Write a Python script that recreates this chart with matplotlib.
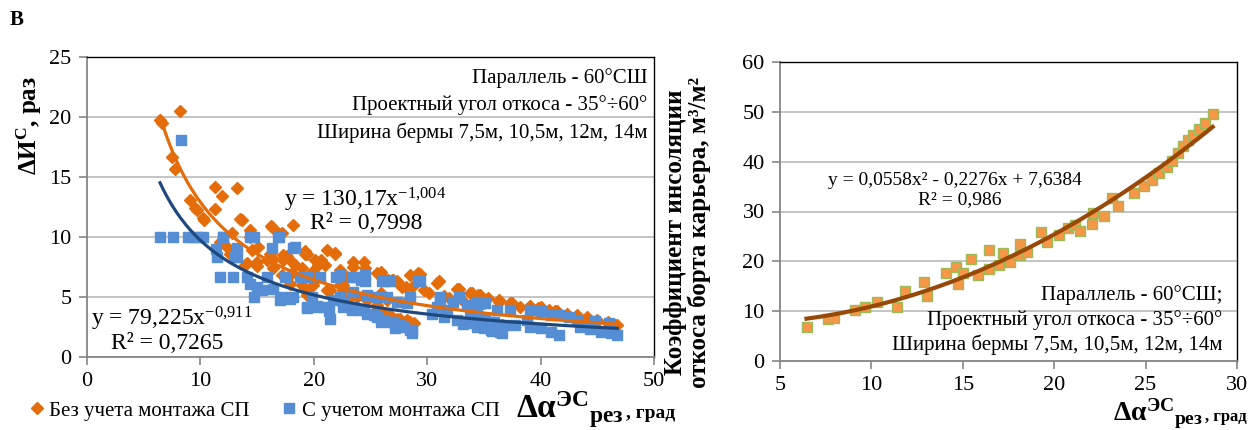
import numpy as np
import matplotlib
matplotlib.use("Agg")
import matplotlib.pyplot as plt
from matplotlib.lines import Line2D

plt.rcParams['font.family'] = ['Liberation Serif', 'DejaVu Serif']
plt.rcParams['mathtext.fontset'] = 'custom'
plt.rcParams['mathtext.rm'] = 'Liberation Serif'
plt.rcParams['mathtext.it'] = 'Liberation Serif:italic'
plt.rcParams['mathtext.bf'] = 'Liberation Serif:bold'

# ---------------- data (left panel) ----------------
bez_x = [6.44, 6.59, 8.21, 7.47, 7.77, 9.09, 9.53, 9.68, 10.27, 10.33, 11.3, 11.89, 13.2, 11.3, 13.5,
         13.65, 14.4, 12.77, 16.2, 16.3, 16.88, 18.2, 17.2, 11.74, 12.33, 12.62, 12.77, 14.4, 15.1, 14.54,
         16.15, 17.6, 17.3, 19.2, 19.24, 19.4, 13.9, 14.1, 14.98, 14.98, 15.86, 16.4, 17.3, 18.35, 18.2,
         16.4, 17.2, 18.07, 18.95, 19.83, 20.4, 20.1, 20.4, 20.6, 21.0, 21.15, 21.9, 21.9, 22.3, 22.9,
         23.5, 23.5, 24.4, 24.5, 25.6, 25.9, 26.0, 26.5, 26.9, 27.0, 27.3, 27.5, 27.8, 28.1, 28.5, 28.7,
         29.2, 29.4, 29.7, 30.9, 31.0, 31.9, 32.6, 32.8, 33.8, 33.95, 34.5, 34.7, 35.4, 36.3, 36.3, 37.3,
         37.5, 38.2, 38.95, 39.1, 39.8, 40.0, 40.7, 41.3, 41.45, 42.3, 43.2, 43.2, 44.1, 44.1, 45.0, 45.9,
         45.9, 46.6, 46.75,
         17.9, 18.95, 19.4, 19.4, 19.97, 21.15, 21.4, 22.3, 22.6, 22.6, 23.2, 23.8, 24.7, 25.6, 25.57,
         26.15, 26.45, 26.7, 27.3, 27.6, 28.2, 28.5, 28.8, 36.6, 25.9, 26.45, 30.2, 31.5, 33.0, 35.0]
bez_y = [19.75, 19.5, 20.5, 16.7, 15.7, 13.1, 12.4, 12.25, 11.55, 11.4, 14.2, 13.4, 14.05, 12.3, 11.5,
         11.4, 10.6, 10.3, 10.9, 10.85, 10.3, 11.0, 10.3, 9.6, 9.2, 8.6, 8.6, 10.0, 9.2, 8.9,
         8.6, 8.4, 8.5, 8.6, 8.8, 8.6, 7.67, 7.8, 7.6, 7.95, 8.1, 8.15, 8.1, 7.67, 7.8,
         7.4, 6.8, 6.97, 7.4, 7.1, 6.7, 8.1, 7.7, 8.1, 7.7, 8.9, 8.6, 8.7, 7.25, 6.7,
         7.5, 7.9, 7.95, 7.4, 7.0, 7.1, 6.75, 6.4, 6.4, 6.4, 6.3, 6.1, 5.86, 5.86, 6.8, 5.86,
         6.97, 6.9, 5.6, 6.2, 6.3, 4.9, 5.7, 5.7, 5.36, 5.3, 5.2, 5.2, 4.9, 4.75, 4.6, 4.47,
         4.47, 4.2, 4.2, 4.25, 4.05, 4.2, 3.9, 3.8, 3.8, 3.6, 3.4, 3.5, 3.3, 3.2, 3.1, 2.86,
         2.95, 2.67, 2.67,
         6.1, 6.0, 5.4, 5.2, 6.0, 5.6, 5.6, 6.0, 5.6, 6.0, 5.0, 5.0, 4.75, 4.3, 3.9,
         3.6, 3.6, 3.5, 3.2, 3.2, 3.1, 2.95, 2.8, 2.67, 5.3, 4.75, 5.3, 5.1, 4.8, 4.5]

s_x = [6.44, 7.56, 8.94, 9.38, 10.27, 8.27, 11.4, 11.44, 11.74, 12.9, 12.0, 13.06, 13.2, 14.1, 14.4,
       14.7, 14.4, 15.0, 14.7, 15.4, 15.86, 16.3, 16.4, 16.88, 17.3, 17.47, 18.2, 18.2, 18.8, 19.4,
       19.83, 20.27, 20.56, 21.0, 21.45, 22.0, 22.3, 22.6, 23.35, 23.5, 24.2, 24.1, 24.7, 25.6, 26.15,
       26.9, 27.6, 28.65, 26.7, 28.5, 17.0, 17.9, 19.4, 20.3, 19.4, 22.3, 23.65, 24.5, 24.5, 26.0,
       21.3, 29.2, 31.15, 32.3, 33.5, 34.4, 34.1, 32.6, 31.45, 30.4, 28.5, 27.9, 27.0, 25.3, 24.4,
       23.5, 22.6, 21.7, 27.3, 28.2, 25.6, 24.7, 26.45, 23.5, 29.4, 26.3, 31.15, 32.8, 34.4, 30.9,
       31.75, 33.8, 34.7, 35.6, 36.45, 35.7, 35.0, 33.2, 27.2, 28.65, 25.9, 34.4, 35.1, 36.15, 37.3,
       39.1, 40.0, 40.9, 41.6, 42.5, 43.2, 39.1, 40.0, 40.9, 41.6, 43.5, 44.4, 45.3, 46.2, 46.75,
       34.4, 35.6, 36.6, 38.8, 46.0, 44.8, 35.1, 35.9, 36.8, 37.7, 18.35, 13.2, 16.9, 12.0, 9.8]
s_y = [10.0, 10.0, 10.0, 10.0, 10.0, 18.1, 9.0, 8.36, 6.7, 6.7, 10.0, 8.36, 9.05, 6.7, 10.0,
       10.0, 6.1, 5.86, 5.0, 5.6, 6.7, 9.05, 5.7, 10.0, 5.0, 6.7, 9.05, 5.0, 6.7, 4.2,
       5.0, 4.2, 6.7, 4.2, 3.2, 6.7, 5.0, 4.2, 3.9, 6.7, 6.4, 3.9, 3.6, 3.36, 3.1,
       2.95, 2.67, 2.25, 6.3, 5.0, 4.75, 4.8, 4.05, 4.25, 6.7, 6.8, 6.7, 6.8, 6.3, 6.3,
       3.8, 6.3, 4.75, 4.6, 4.3, 4.2, 2.8, 3.1, 3.36, 3.6, 2.25, 2.5, 2.95, 3.5, 3.9,
       4.2, 4.47, 4.75, 4.6, 4.47, 5.0, 5.2, 5.0, 5.4, 6.3, 6.3, 5.0, 5.0, 4.6, 4.2,
       3.9, 3.36, 3.2, 2.95, 2.1, 2.2, 2.4, 2.75, 2.4, 2.0, 2.95, 4.3, 4.47, 3.9, 3.9,
       3.9, 3.8, 3.5, 3.5, 3.36, 3.1, 2.5, 2.4, 2.1, 1.83, 2.5, 2.3, 2.1, 2.0, 1.83,
       2.5, 2.25, 1.97, 3.1, 2.8, 3.0, 3.2, 2.95, 2.7, 2.67, 9.2, 8.36, 10.0, 10.0, 10.0]

# trendline coefficients (as printed on the chart)
bez_a, bez_b = 130.17, -1.004
s_a, s_b = 79.225, -0.911

# ---------------- data (right panel) ----------------
k_x = [6.45, 7.64, 7.95, 9.1, 9.65, 10.32, 11.38, 11.84, 12.9, 13.06, 14.06, 14.63, 14.76, 15.03,
       15.43, 15.85, 16.45, 16.45, 17.0, 17.22, 17.58, 18.13, 18.13, 18.53, 19.26, 19.59, 20.26,
       20.77, 21.14, 21.41, 22.05, 22.1, 22.72, 23.14, 23.5, 24.36, 24.91, 25.33, 25.75, 26.19,
       26.43, 26.79, 27.06, 27.34, 27.61, 27.94, 28.25, 28.67]
k_y = [6.9, 8.4, 8.6, 10.2, 10.8, 11.9, 10.9, 14.1, 15.9, 13.1, 17.7, 18.9, 15.5, 17.6,
       20.4, 17.2, 22.3, 18.4, 19.3, 21.6, 19.9, 23.5, 21.3, 21.8, 25.8, 23.8, 25.3,
       26.6, 27.3, 26.0, 27.5, 29.7, 29.1, 32.7, 31.2, 33.8, 35.1, 36.3, 37.8, 39.0,
       40.2, 41.8, 43.2, 44.4, 45.4, 46.5, 47.8, 49.6]
k_c = [0.0558, -0.2276, 7.6384]

ORANGE = '#E46C0A'
BLUE = '#558ED5'
DARKBLUE = '#1F497D'
SQ_FACE = '#F79646'
SQ_EDGE = '#9BBB59'
TREND_BR = '#984807'
GRID = '#BFBFBF'
AXGRAY = '#868686'

W, H = 1252, 430
fig = plt.figure(figsize=(W / 100, H / 100), dpi=100)


def style_axes(ax):
    ax.grid(axis='y', color=GRID, lw=1.3, zorder=0)
    ax.set_axisbelow(True)
    for s in ['top', 'right']:
        ax.spines[s].set_color('black')
        ax.spines[s].set_linewidth(1.0)
    for s in ['left', 'bottom']:
        ax.spines[s].set_color(AXGRAY)
        ax.spines[s].set_linewidth(1.3)
    ax.tick_params(axis='both', direction='out', length=6, width=1.2, color=AXGRAY,
                   labelsize=16, pad=5)


def composed_xlabel(x_px, base_px, big, small):
    t1 = fig.text(x_px / W, 1 - base_px / H, r'$\mathbf{\Delta\alpha^{ЭС}{}_{рез}}$',
                  fontsize=big, ha='left', va='baseline')
    fig.canvas.draw()
    bb = t1.get_window_extent()
    fig.text(bb.x1 / W + 2 / W, 1 - base_px / H, ', град', fontsize=small,
             fontweight='bold', ha='left', va='baseline')


# ---------------- left panel ----------------
ax1 = fig.add_axes([87 / W, 1 - 357 / H, 567 / W, 300 / H])
style_axes(ax1)
ax1.set_xlim(0, 50)
ax1.set_ylim(0, 25)
ax1.set_xticks([0, 10, 20, 30, 40, 50])
ax1.set_yticks([0, 5, 10, 15, 20, 25])
ax1.plot(bez_x, bez_y, ls='none', marker='D', ms=6.0, color=ORANGE, mec=ORANGE, zorder=3)
ax1.plot(s_x, s_y, ls='none', marker='s', ms=7.0, color=BLUE, mec=BLUE, zorder=3)
xx = np.linspace(min(bez_x), max(bez_x), 300)
ax1.plot(xx, bez_a * xx ** bez_b, color=ORANGE, lw=2.3, zorder=4)
xx2 = np.linspace(min(s_x), max(s_x), 300)
ax1.plot(xx2, s_a * xx2 ** s_b, color=DARKBLUE, lw=2.3, zorder=4)

tf = 15
ax1.text(49.4, 23.25, 'Параллель - 60°СШ', ha='right', va='center', fontsize=tf)
ax1.text(49.4, 21.0, 'Проектный угол откоса - 35°÷60°', ha='right', va='center', fontsize=tf)
ax1.text(49.4, 18.67, 'Ширина бермы 7,5м, 10,5м, 12м, 14м', ha='right', va='center', fontsize=tf)

ef = 17
ax1.text(17.4, 13.1, r'y = 130,17x$^{\mathregular{-1{,}004}}$', ha='left', va='center', fontsize=ef, zorder=5)
ax1.text(19.7, 11.1, 'R² = 0,7998', ha='left', va='center', fontsize=ef, zorder=5)
ax1.text(0.35, 3.2, r'y = 79,225x$^{\mathregular{-0{,}911}}$', ha='left', va='center', fontsize=ef, zorder=5)
ax1.text(2.1, 1.1, 'R² = 0,7265', ha='left', va='center', fontsize=ef, zorder=5)

ax1.set_ylabel(r'$\mathbf{\Delta И^{C}}$, раз', fontsize=18, fontweight='bold')
ax1.yaxis.set_label_coords(-0.075, 0.77)

handles = [Line2D([], [], ls='none', marker='D', ms=6, color=ORANGE),
           Line2D([], [], ls='none', marker='s', ms=7, color=BLUE)]
fig.legend(handles, ['Без учета монтажа СП', 'С учетом монтажа СП'], loc='center left',
           bbox_to_anchor=(22 / W, 1 - 411 / H), ncol=2, frameon=False, fontsize=15,
           handlelength=0.6, handletextpad=0.3, columnspacing=1.6, borderaxespad=0)

fig.text(17 / W, 1 - 20 / H, 'В', fontsize=15, fontweight='bold', ha='center', va='center')

# ---------------- right panel ----------------
ax2 = fig.add_axes([780 / W, 1 - 361 / H, 457 / W, 299 / H])
style_axes(ax2)
ax2.set_xlim(5, 30)
ax2.set_ylim(0, 60)
ax2.set_xticks([5, 10, 15, 20, 25, 30])
ax2.set_yticks([0, 10, 20, 30, 40, 50, 60])
ax2.plot(k_x, k_y, ls='none', marker='s', ms=7.5, color=SQ_FACE, mec=SQ_EDGE, mew=1.0, zorder=3)
xk = np.linspace(min(k_x), max(k_x), 300)
ax2.plot(xk, np.polyval(k_c, xk), color=TREND_BR, lw=3.0, zorder=4)

ax2.text(7.6, 36.3, 'y = 0,0558x² - 0,2276x + 7,6384', ha='left', va='center', fontsize=14, zorder=5)
ax2.text(12.55, 32.4, 'R² = 0,986', ha='left', va='center', fontsize=14, zorder=5)
ax2.text(29.2, 13.3, 'Параллель - 60°СШ;', ha='right', va='center', fontsize=tf, zorder=5)
ax2.text(29.2, 8.25, 'Проектный угол откоса - 35°÷60°', ha='right', va='center', fontsize=tf, zorder=5)
ax2.text(29.2, 3.2, 'Ширина бермы 7,5м, 10,5м, 12м, 14м', ha='right', va='center', fontsize=tf, zorder=5)

ax2.set_ylabel('Коэффициент инсоляции\nоткоса борта карьера, м³/м²', fontsize=18,
               fontweight='bold', linespacing=1.0)
ax2.yaxis.set_label_coords(-0.152, 0.43)

composed_xlabel(516, 418, 24, 14)
composed_xlabel(1113, 421, 20, 12)

fig.savefig('out.png', dpi=100)
